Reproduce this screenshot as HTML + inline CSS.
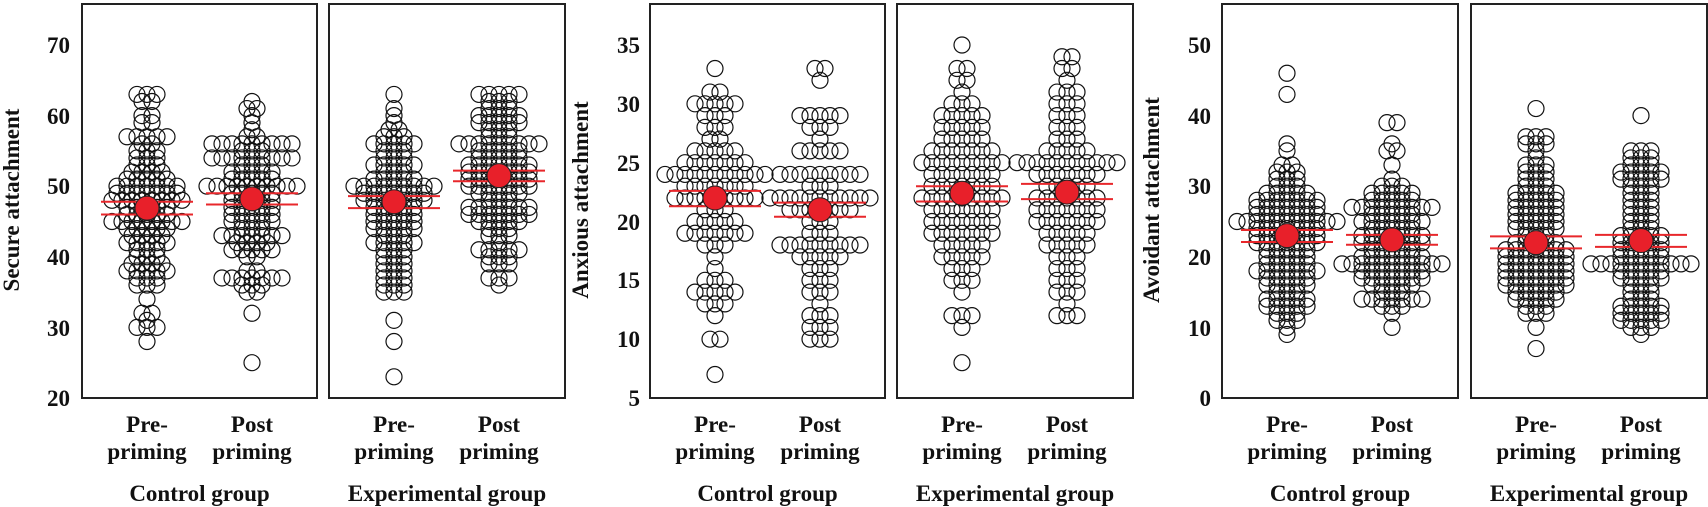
<!DOCTYPE html>
<html><head><meta charset="utf-8"><style>
html,body{margin:0;padding:0;background:#fff;}
svg{display:block;}
text{font-family:"Liberation Serif",serif;font-weight:bold;fill:#111;}
</style></head><body>
<svg id="s" width="1708" height="507" viewBox="0 0 1708 507" xmlns="http://www.w3.org/2000/svg">
<g id="g"></g>
<g font-size="23">
<text x="70" y="53" text-anchor="end">70</text>
<text x="70" y="124" text-anchor="end">60</text>
<text x="70" y="194" text-anchor="end">50</text>
<text x="70" y="265" text-anchor="end">40</text>
<text x="70" y="336" text-anchor="end">30</text>
<text x="70" y="406" text-anchor="end">20</text>
<text x="640" y="53" text-anchor="end">35</text>
<text x="640" y="112" text-anchor="end">30</text>
<text x="640" y="171" text-anchor="end">25</text>
<text x="640" y="230" text-anchor="end">20</text>
<text x="640" y="288" text-anchor="end">15</text>
<text x="640" y="347" text-anchor="end">10</text>
<text x="640" y="406" text-anchor="end">5</text>
<text x="1211" y="53" text-anchor="end">50</text>
<text x="1211" y="124" text-anchor="end">40</text>
<text x="1211" y="194" text-anchor="end">30</text>
<text x="1211" y="265" text-anchor="end">20</text>
<text x="1211" y="336" text-anchor="end">10</text>
<text x="1211" y="406" text-anchor="end">0</text>
<text transform="translate(19,200) rotate(-90)" text-anchor="middle">Secure attachment</text>
<text transform="translate(588,200) rotate(-90)" text-anchor="middle">Anxious attachment</text>
<text transform="translate(1159,200) rotate(-90)" text-anchor="middle">Avoidant attachment</text>
</g>
<g id="labels" font-size="23" text-anchor="middle"></g>
</svg>
<script>
var NS="http://www.w3.org/2000/svg";
var g=document.getElementById('g'),L=document.getElementById('labels');
function el(t,a,p){var e=document.createElementNS(NS,t);for(var k in a)e.setAttribute(k,a[k]);(p||g).appendChild(e);return e;}
var panels=[[82,317],[329,565],[650,885],[897,1133],[1222,1458],[1471,1707]];
var scales=[[70,20],[70,20],[35,5],[35,5],[50,0],[50,0]];
function Y(p,v){var s=scales[p];return 45+(s[0]-v)*(353/(s[0]-s[1]));}
var data=[
[[63,3],[62,2],[60,2],[59,2],[57,5],[56,2],[55,3],[54,3],[53,3],[52,4],[51,5],[50,7],[49,7],[48,8],[47,5],[46,5],[45,8],[44,5],[43,4],[42,5],[41,3],[40,3],[39,4],[38,5],[37,3],[36,3],[34,1],[32,2],[31,1],[30,3],[28,1]],
[[62,1],[61,2],[60,1],[59,1],[58,1],[57,2],[56,9],[55,3],[54,9],[53,3],[52,5],[51,5],[50,10],[49,5],[48,5],[47,5],[46,5],[45,5],[44,3],[43,7],[42,4],[41,5],[40,2],[38,2],[37,7],[36,3],[35,2],[32,1],[25,1]],
[[63,1],[61,1],[60,1],[59,1],[58,2],[57,3],[56,5],[55,3],[54,3],[53,5],[52,3],[51,5],[50,9],[49,7],[48,7],[47,5],[46,5],[45,5],[44,5],[43,3],[42,5],[41,3],[40,3],[39,3],[38,3],[37,3],[36,3],[35,3],[31,1],[28,1],[23,1]],
[[63,5],[62,3],[61,3],[60,5],[59,5],[58,3],[57,3],[56,9],[55,5],[54,5],[53,7],[52,7],[51,7],[50,7],[49,5],[48,3],[47,7],[46,7],[45,5],[44,3],[43,3],[42,1],[41,5],[40,3],[39,3],[37,3],[36,1]],
[[33,1],[31,2],[30,5],[29,3],[28,3],[27,2],[26,5],[25,7],[24,11],[23,7],[22,9],[21,3],[20,5],[19,7],[18,3],[17,1],[16,1],[15,3],[14,5],[13,3],[12,1],[10,2],[7,1]],
[[33,2],[32,1],[29,5],[28,3],[27,1],[26,5],[24,9],[23,3],[22,11],[21,7],[20,3],[19,3],[18,9],[17,5],[16,3],[15,3],[14,3],[13,1],[12,3],[11,3],[10,3]],
[[35,1],[33,2],[32,2],[31,1],[30,3],[29,5],[28,5],[27,5],[26,7],[25,9],[24,7],[23,7],[22,9],[21,7],[20,7],[19,7],[18,5],[17,5],[16,3],[15,3],[14,1],[12,3],[11,1],[8,1]],
[[34,2],[33,2],[32,1],[31,3],[30,3],[29,3],[28,3],[27,3],[26,5],[25,11],[24,7],[23,5],[22,7],[21,7],[20,7],[19,5],[18,5],[17,3],[16,3],[15,3],[14,3],[13,1],[12,3]],
[[46,1],[43,1],[36,1],[35,1],[33,2],[32,3],[31,3],[30,3],[29,5],[28,7],[27,7],[26,7],[25,11],[24,7],[23,7],[22,7],[21,5],[20,5],[19,5],[18,7],[17,5],[16,5],[15,3],[14,5],[13,5],[12,3],[11,3],[10,1],[9,1]],
[[39,2],[36,1],[35,2],[33,1],[31,1],[30,3],[29,5],[28,5],[27,9],[26,5],[25,7],[24,5],[23,7],[22,7],[21,5],[20,7],[19,11],[18,7],[17,7],[16,5],[15,3],[14,7],[13,3],[12,1],[10,1]],
[[41,1],[37,3],[36,3],[35,1],[34,1],[33,3],[32,3],[31,3],[30,3],[29,5],[28,5],[27,5],[26,5],[25,5],[24,5],[23,3],[22,5],[21,7],[20,7],[19,7],[18,7],[17,7],[16,7],[15,5],[14,5],[13,3],[12,3],[10,1],[7,1]],
[[40,1],[35,3],[34,3],[33,3],[32,5],[31,5],[30,3],[29,3],[28,3],[27,3],[26,3],[25,3],[24,3],[23,5],[22,5],[21,5],[20,5],[19,11],[18,5],[17,5],[16,3],[15,3],[14,3],[13,5],[12,5],[11,5],[10,3],[9,1]]
];
var stats=[[46.9,47.8,46.0],[48.2,49.0,47.4],[47.8,48.6,46.9],[51.5,52.2,50.7],
[22.0,22.6,21.3],[21.0,21.6,20.4],[22.4,23.0,21.7],[22.5,23.2,21.9],
[23.0,23.8,22.1],[22.4,23.1,21.7],[22.0,22.9,21.2],[22.3,23.1,21.4]];
panels.forEach(function(p,i){
 el('rect',{x:p[0],y:4,width:p[1]-p[0],height:394,fill:'none',stroke:'#222','stroke-width':2});
 var cs=[p[0]+65,p[0]+170];
 cs.forEach(function(cx,j){
  el('text',{x:cx,y:432},L).textContent=j?'Post':'Pre-';
  el('text',{x:cx,y:459},L).textContent='priming';
 });
 el('text',{x:(p[0]+p[1])/2,y:501},L).textContent=(i%2==0)?'Control group':'Experimental group';
});
for(var k=0;k<12;k++){
 var p=Math.floor(k/2),cx=panels[p][0]+(k%2?170:65);
 data[k].forEach(function(r){
  var n=r[1],y=Y(p,r[0]);
  for(var i=0;i<n;i++){
   el('circle',{cx:cx+(i-(n-1)/2)*10,cy:y,r:8,fill:'none',stroke:'#111','stroke-width':1.2});
  }
 });
 var st=stats[k];
 el('line',{x1:cx-46,x2:cx+46,y1:Y(p,st[1]),y2:Y(p,st[1]),stroke:'#e8272b','stroke-width':2});
 el('line',{x1:cx-46,x2:cx+46,y1:Y(p,st[2]),y2:Y(p,st[2]),stroke:'#e8272b','stroke-width':2});
 el('circle',{cx:cx,cy:Y(p,st[0]),r:12,fill:'#e8202a',stroke:'#222','stroke-width':1});
}
</script>
</body></html>
